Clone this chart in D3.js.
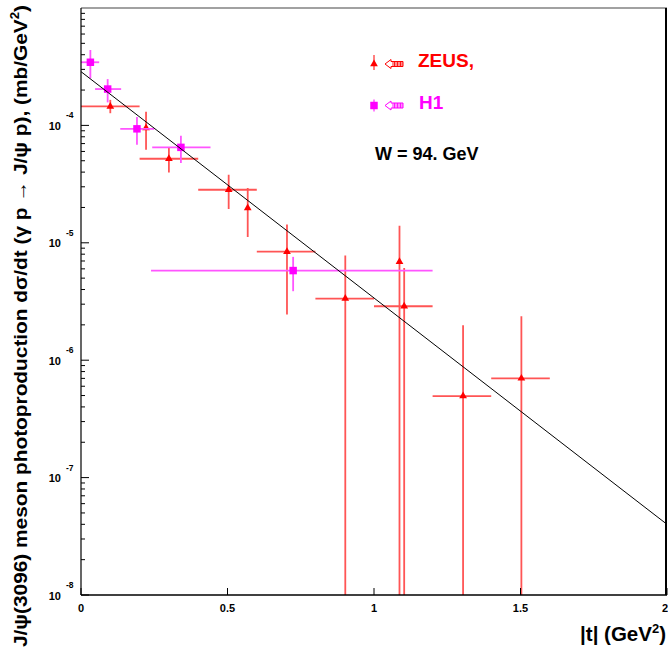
<!DOCTYPE html>
<html>
<head>
<meta charset="utf-8">
<script src="https://cdn.jsdelivr.net/npm/d3@7"></script>
<style>
  body { margin: 0; background: #fff; }
  text { font-family: 'Liberation Sans', Arial, Helvetica, sans-serif; font-weight: bold; }
</style>
</head>
<body>
<div id="chart"></div>
<script>
// ZEUS points (|t|, dsigma/dt), 1e-9 means the error bar goes off the bottom
const zeusT     = [0.10, 0.222, 0.30, 0.504, 0.569, 0.703, 0.902, 1.087, 1.103, 1.304, 1.503]
const zeusTLow  = [0.0, null, 0.2, 0.4, null, 0.6, 0.8, null, 1.0, 1.2, 1.4]
const zeusTHigh = [0.2, null, 0.4, 0.6, null, 0.8, 1.0, null, 1.2, 1.4, 1.6]
const zeusXsec  = [1.45e-4, 9.5e-5, 5.2e-5, 2.83e-5, 1.98e-5, 8.4e-6, 3.35e-6, 6.9e-6, 2.88e-6, 4.95e-7, 7.0e-7]
const zeusLow   = [1.27e-4, 6.2e-5, 3.97e-5, 1.94e-5, 1.12e-5, 2.45e-6, 1e-9, 1e-9, 1e-9, 1e-9, 1e-9]
const zeusHigh  = [1.65e-4, 1.31e-4, 6.5e-5, 3.8e-5, 2.93e-5, 1.43e-5, 7.8e-6, 1.4e-5, 6.1e-6, 1.98e-6, 2.37e-6]

// H1 points
const h1T     = [0.032, 0.091, 0.191, 0.341, 0.724]
const h1TLow  = [0.0, 0.048, 0.134, 0.243, 0.239]
const h1THigh = [0.062, 0.137, 0.25, 0.442, 1.2]
const h1Xsec  = [3.45e-4, 2.04e-4, 9.35e-5, 6.5e-5, 5.8e-6]
const h1Low   = [2.52e-4, 1.57e-4, 6.84e-5, 4.78e-5, 3.87e-6]
const h1High  = [4.39e-4, 2.48e-4, 1.18e-4, 8.17e-5, 7.59e-6]

// exponential fit, straight on the log axis
const fitT    = [0, 2]
const fitXsec = [2.87e-4, 4.0e-8]

const xTicks = [0, 0.5, 1, 1.5, 2]
const xTickLabels = ['0', '0.5', '1', '1.5', '2']
const yExponents = [-8, -7, -6, -5, -4]

const W = 668, H = 652
const margin = {top: 8, right: 1, bottom: 57, left: 81}

const svg = d3.select('#chart').append('svg')
    .attr('width', W)
    .attr('height', H)

const x = d3.scaleLinear().domain([0, 2]).range([margin.left, W - margin.right])
const y = d3.scaleLog().domain([1e-8, 1e-3]).range([H - margin.bottom, margin.top]).clamp(true)

const plot = svg.append('g')
svg.append('clipPath').attr('id', 'clip')
    .append('rect')
    .attr('x', margin.left).attr('y', margin.top)
    .attr('width', x(2) - x(0)).attr('height', y(1e-8) - y(1e-3))
plot.attr('clip-path', 'url(#clip)')

// y ticks: decades + minor 2..9
const yMinor = []
for (let e = -8; e < -3; e++) {
    for (let m = 2; m <= 9; m++) yMinor.push(m * Math.pow(10, e))
}
svg.append('g').selectAll('line.minor')
    .data(yMinor)
    .join('line')
    .attr('x1', x(0)).attr('x2', x(0) + 4)
    .attr('y1', d => y(d)).attr('y2', d => y(d))
    .attr('stroke', '#000')
svg.append('g').selectAll('line.major')
    .data(yExponents)
    .join('line')
    .attr('x1', x(0)).attr('x2', x(0) + 8)
    .attr('y1', d => y(Math.pow(10, d))).attr('y2', d => y(Math.pow(10, d)))
    .attr('stroke', '#000')

const yLab = svg.append('g').selectAll('g')
    .data(yExponents)
    .join('g')
    .attr('transform', d => `translate(0, ${y(Math.pow(10, d))})`)
yLab.append('text')
    .attr('x', 61).attr('y', 4.5)
    .attr('text-anchor', 'end')
    .attr('font-size', 11)
    .text('10')
yLab.append('text')
    .attr('x', 66).attr('y', -7)
    .attr('font-size', 8.5)
    .text(d => d)

// x ticks
svg.append('g').selectAll('line')
    .data(xTicks)
    .join('line')
    .attr('x1', d => x(d)).attr('x2', d => x(d))
    .attr('y1', y(1e-8)).attr('y2', y(1e-8) - 7)
    .attr('stroke', '#000')
svg.append('g').selectAll('text')
    .data(xTicks)
    .join('text')
    .attr('x', d => d === 2 ? x(d) + 1 : x(d)).attr('y', 611.5)
    .attr('text-anchor', d => d === 2 ? 'end' : 'middle')
    .attr('font-size', 11)
    .text((d, i) => xTickLabels[i])

// frame
svg.append('line').attr('x1', x(0)).attr('x2', x(2)).attr('y1', y(1e-3)).attr('y2', y(1e-3))
    .attr('stroke', '#444').attr('stroke-width', 1.2)
svg.append('line').attr('x1', x(2) - 1).attr('x2', x(2) - 1).attr('y1', y(1e-3)).attr('y2', y(1e-8))
    .attr('stroke', '#000').attr('stroke-width', 2)
svg.append('line').attr('x1', x(0)).attr('x2', x(0)).attr('y1', y(1e-3)).attr('y2', y(1e-8))
    .attr('stroke', '#000').attr('stroke-width', 1.2)
svg.append('line').attr('x1', x(0)).attr('x2', x(2)).attr('y1', y(1e-8)).attr('y2', y(1e-8))
    .attr('stroke', '#000').attr('stroke-width', 1.5)

// points with error bars
function drawSeries(ts, tLo, tHi, v, lo, hi, color, barColor, symbol, size) {
    const pts = ts.map((t, i) => ({t: t, tLo: tLo[i], tHi: tHi[i], v: v[i], lo: lo[i], hi: hi[i]}))
    const g = plot.append('g')
    g.selectAll('line.ey')
        .data(pts)
        .join('line')
        .attr('x1', d => x(d.t)).attr('x2', d => x(d.t))
        .attr('y1', d => y(d.lo)).attr('y2', d => y(d.hi))
        .attr('stroke', barColor).attr('stroke-width', 1.8)
    g.selectAll('line.ex')
        .data(pts.filter(d => d.tLo !== null))
        .join('line')
        .attr('x1', d => x(d.tLo)).attr('x2', d => x(d.tHi))
        .attr('y1', d => y(d.v)).attr('y2', d => y(d.v))
        .attr('stroke', barColor).attr('stroke-width', 1.8)
    g.selectAll('path')
        .data(pts)
        .join('path')
        .attr('transform', d => `translate(${x(d.t)}, ${y(d.v)})`)
        .attr('d', d3.symbol().type(symbol).size(size))
        .attr('fill', color)
    return g
}

drawSeries(zeusT, zeusTLow, zeusTHigh, zeusXsec, zeusLow, zeusHigh, '#ff0000', '#ff5555', d3.symbolTriangle, 26)
drawSeries(h1T, h1TLow, h1THigh, h1Xsec, h1Low, h1High, '#ff00ff', '#ff55ff', d3.symbolSquare, 56)

// fit line
plot.append('path')
    .datum(fitT.map((t, i) => [t, fitXsec[i]]))
    .attr('d', d3.line().x(d => x(d[0])).y(d => y(d[1])))
    .attr('fill', 'none')
    .attr('stroke', '#000')
    .attr('stroke-width', 1)

// legend
function legendArrow(g, color) {
    g.append('path')
        .attr('d', 'M11,0 L17,-4.5 L17,-2.5 L29,-2.5 L29,2.5 L17,2.5 L17,4.5 Z')
        .attr('fill', 'none').attr('stroke', color).attr('stroke-width', 1)
    d3.range(19, 29, 1.5).forEach(sx => {
        g.append('line').attr('x1', sx).attr('x2', sx).attr('y1', -2.5).attr('y2', 2.5)
            .attr('stroke', color).attr('stroke-width', 0.9)
    })
}
const leg1 = svg.append('g').attr('transform', 'translate(374, 64)')
leg1.append('line').attr('x1', 0).attr('x2', 0).attr('y1', -9).attr('y2', 6).attr('stroke', '#ff0000')
leg1.append('path').attr('d', d3.symbol().type(d3.symbolTriangle).size(26)).attr('fill', '#ff0000')
legendArrow(leg1, '#ff0000')
svg.append('text').attr('x', 418).attr('y', 67).attr('font-size', 19).attr('fill', '#ff0000').text('ZEUS,')

const leg2 = svg.append('g').attr('transform', 'translate(374, 105.5)')
leg2.append('line').attr('x1', 0).attr('x2', 0).attr('y1', -6).attr('y2', 6).attr('stroke', '#ff00ff')
leg2.append('path').attr('d', d3.symbol().type(d3.symbolSquare).size(56)).attr('fill', '#ff00ff')
legendArrow(leg2, '#ff00ff')
svg.append('text').attr('x', 419).attr('y', 108.5).attr('font-size', 19).attr('fill', '#ff00ff').text('H1')

svg.append('text').attr('x', 375).attr('y', 160).attr('font-size', 18).attr('fill', '#000').text('W = 94. GeV')

// axis titles
const xt = svg.append('text')
    .attr('x', 666).attr('y', 641)
    .attr('text-anchor', 'end')
    .attr('font-size', 20.5)
xt.append('tspan').text('|t| (GeV')
xt.append('tspan').attr('font-size', 13).attr('dy', -8).text('2')
xt.append('tspan').attr('dy', 8).text(')')

const yt = svg.append('text')
    .attr('transform', 'translate(27, 326) rotate(-90)')
    .attr('text-anchor', 'middle')
    .attr('font-size', 19)
    .attr('textLength', 642)
    .attr('lengthAdjust', 'spacingAndGlyphs')
yt.append('tspan').text('J/\u03c8(3096) meson photoproduction d\u03c3/dt (\u03b3 p \u2192 J/\u03c8 p), (mb/GeV')
yt.append('tspan').attr('font-size', 12).attr('dy', -8).text('2')
yt.append('tspan').attr('dy', 8).text(')')
</script>
</body>
</html>
